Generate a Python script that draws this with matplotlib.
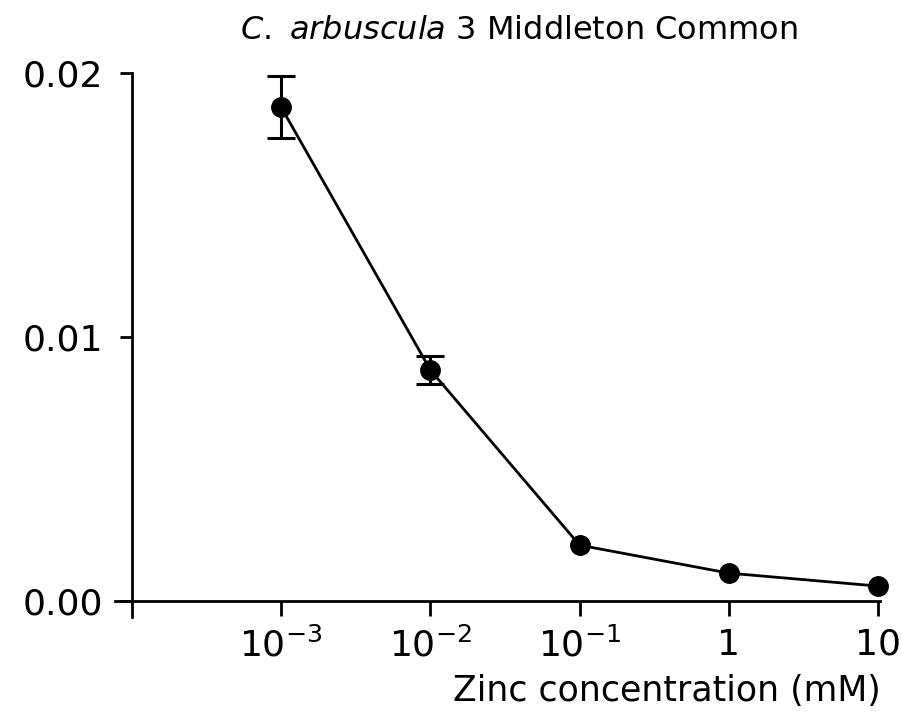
import matplotlib
matplotlib.use("Agg")
import matplotlib.pyplot as plt
import numpy as np

# Zinc concentration (mM) and measured response with standard errors
zinc_mM = [1e-3, 1e-2, 1e-1, 1, 10]
response = [0.0187, 0.00875, 0.00212, 0.00106, 0.00057]
response_err = [0.00118, 0.00053, 0.0, 0.0, 0.0]

x_ticks = [1e-3, 1e-2, 1e-1, 1, 10]
x_tick_labels = [r"$10^{-3}$", r"$10^{-2}$", r"$10^{-1}$", "1", "10"]
y_ticks = [0.0, 0.01, 0.02]
y_tick_labels = ["0.00", "0.01", "0.02"]

plt.rcParams["font.family"] = ["DejaVu Sans"]
plt.rcParams["mathtext.fontset"] = "dejavusans"

fig = plt.figure(figsize=(9.02, 7.18), dpi=100)
ax = fig.add_axes([0.1275, 0.1407, 0.848, 0.7577])

ax.set_xscale("log")
ax.set_xlim(10 ** -4.114, 10 ** 1.013)
ax.set_ylim(-0.0006, 0.02)

# connecting line and markers
ax.plot(zinc_mM, response, "o-", color="black", markersize=14,
        linewidth=2.0, zorder=3, clip_on=False)

# error bars only where an error was measured
x_arr = np.array(zinc_mM)
y_arr = np.array(response)
e_arr = np.array(response_err)
has_err = e_arr > 0
ax.errorbar(x_arr[has_err], y_arr[has_err], yerr=e_arr[has_err], fmt="none",
            ecolor="black", elinewidth=2.2, capsize=10, capthick=2.2,
            zorder=2)

for side in ("top", "right"):
    ax.spines[side].set_visible(False)
ax.spines["bottom"].set_position(("data", 0))
ax.spines["left"].set_position(("data", 1e-4))
ax.spines["bottom"].set_linewidth(2.0)
ax.spines["left"].set_linewidth(2.0)

ax.set_xticks(x_ticks)
ax.set_xticklabels(x_tick_labels)
ax.xaxis.set_minor_locator(matplotlib.ticker.NullLocator())
ax.set_yticks(y_ticks)
ax.set_yticklabels(y_tick_labels)

ax.tick_params(axis="x", direction="out", length=11, width=2.0,
               labelsize=26, pad=8)
ax.tick_params(axis="y", direction="out", length=9, width=2.0,
               labelsize=26, pad=12)

fig.text(0.575, 0.958, r"$\mathit{C.\ arbuscula}$ 3 Middleton Common",
         ha="center", va="center", fontsize=23)
fig.text(0.976, 0.038, "Zinc concentration (mM)", ha="right", va="center",
         fontsize=25)

fig.savefig("out.png", dpi=100)
